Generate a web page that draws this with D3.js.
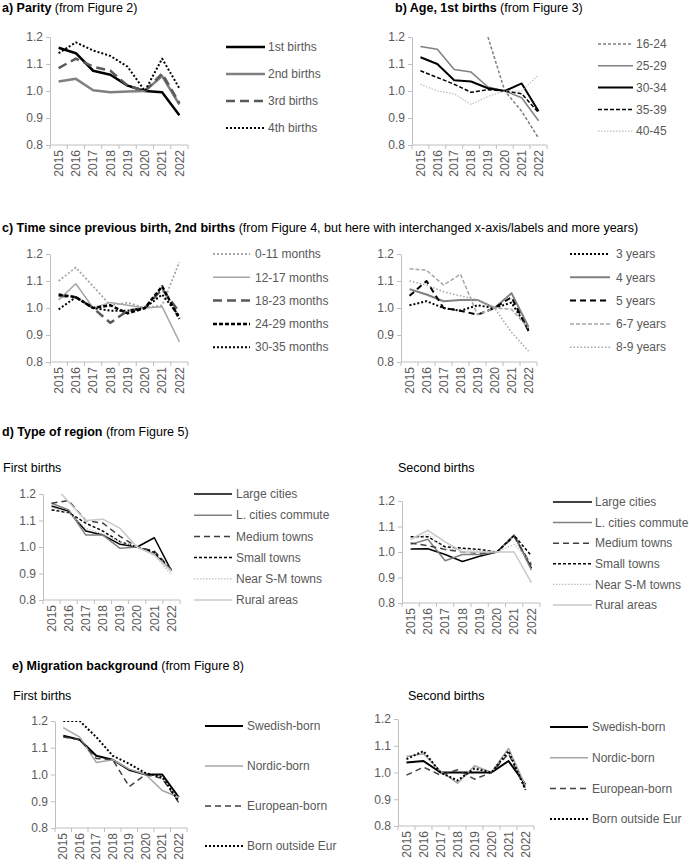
<!DOCTYPE html>
<html>
<head>
<meta charset="utf-8">
<script src="https://cdn.jsdelivr.net/npm/d3@7"></script>
<style>
  body { margin: 0; background: #fff; }
  svg { display: block; font-family: "Liberation Sans", Arial, sans-serif; }
  .ttl { font-size: 12.5px; fill: #000; }
  .ttl .b { font-weight: bold; }
  .sub { font-size: 12.5px; fill: #000; }
  .ax text { fill: #595959; font-size: 12px; font-family: "Liberation Sans", Arial, sans-serif; }
  .ax path, .ax line { stroke: #bfbfbf; }
  .lg { fill: #595959; font-size: 12px; }
</style>
</head>
<body>
<svg id="chart" width="689" height="866"></svg>
<script>
// ---- data ----
var years = ["2015", "2016", "2017", "2018", "2019", "2020", "2021", "2022"];
var yTicks = [0.8, 0.9, 1.0, 1.1, 1.2];

var parityNames = ["1st births", "2nd births", "3rd births", "4th births"];
var parityValues = [
  [1.160, 1.140, 1.075, 1.060, 1.020, 1.000, 0.995, 0.910],
  [1.035, 1.045, 1.003, 0.995, 0.998, 1.000, 1.055, 0.950],
  [1.085, 1.120, 1.090, 1.075, 1.020, 1.000, 1.065, 0.955],
  [1.140, 1.180, 1.150, 1.130, 1.090, 1.000, 1.120, 1.010]
];

var ageNames = ["16-24", "25-29", "30-34", "35-39", "40-45"];
var ageValues = [
  [null, null, null, null, 1.200, 1.000, 0.925, 0.825],
  [1.165, 1.155, 1.080, 1.070, 1.015, 1.000, 0.975, 0.890],
  [1.125, 1.100, 1.040, 1.035, 1.010, 1.000, 1.028, 0.925],
  [1.075, 1.050, 1.025, 0.995, 1.005, 1.000, 0.990, 0.920],
  [1.025, 1.000, 0.990, 0.950, 0.980, 1.000, 1.000, 1.060]
];

var monthNames = ["0-11 months", "12-17 months", "18-23 months", "24-29 months", "30-35 months"];
var monthValues = [
  [1.100, 1.150, 1.080, 1.010, 1.020, 1.000, 1.010, 1.170],
  [1.030, 1.090, 1.000, 1.020, 1.010, 1.000, 1.005, 0.875],
  [1.045, 1.040, 1.000, 0.945, 0.990, 1.000, 1.070, 0.985],
  [1.050, 1.040, 1.000, 1.010, 0.980, 1.000, 1.080, 0.960],
  [0.995, 1.040, 1.000, 0.990, 0.990, 1.000, 1.050, 0.970]
];

var yearGapNames = ["3 years", "4 years", "5 years", "6-7 years", "8-9 years"];
var yearGapValues = [
  [1.010, 1.025, 1.000, 0.990, 1.010, 1.000, 1.020, 0.920],
  [1.070, 1.050, 1.025, 1.030, 1.030, 1.000, 1.055, 0.930],
  [1.045, 1.100, 1.000, 0.990, 0.975, 1.000, 1.040, 0.915],
  [1.145, 1.140, 1.085, 1.125, 0.975, 1.000, 0.995, 0.925],
  [1.100, 1.085, 1.060, 1.045, 1.030, 1.000, 0.910, 0.840]
];

var regionNames = ["Large cities", "L. cities commute", "Medium towns", "Small towns", "Near S-M towns", "Rural areas"];
var regionFirst = [
  [1.155, 1.135, 1.060, 1.045, 1.010, 1.000, 1.035, 0.910],
  [1.165, 1.140, 1.045, 1.045, 0.995, 1.000, 0.975, 0.910],
  [1.165, 1.175, 1.100, 1.090, 1.040, 1.000, 0.985, 0.915],
  [1.140, 1.130, 1.090, 1.060, 1.020, 1.000, 0.980, 0.910],
  [1.150, 1.130, 1.070, 1.050, 1.020, 1.000, 0.970, 0.895],
  [1.240, 1.170, 1.100, 1.105, 1.070, 1.000, 0.970, 0.910]
];
var regionSecond = [
  [1.012, 1.013, 0.990, 0.963, 0.983, 1.000, 1.066, 0.937],
  [1.030, 1.050, 0.966, 0.990, 0.990, 1.000, 1.065, 0.930],
  [1.035, 1.025, 1.010, 1.000, 0.995, 1.000, 1.060, 0.950],
  [1.060, 1.060, 1.020, 1.015, 1.010, 1.000, 1.065, 0.985],
  [1.050, 1.070, 1.010, 1.010, 1.005, 1.000, 1.030, 0.960],
  [1.050, 1.085, 1.040, 1.000, 1.000, 1.000, 1.000, 0.880]
];

var migNames = ["Swedish-born", "Nordic-born", "European-born", "Born outside Eur"];
var migFirst = [
  [1.145, 1.130, 1.070, 1.055, 1.017, 1.000, 1.000, 0.915],
  [1.175, 1.140, 1.045, 1.055, 1.020, 1.000, 0.940, 0.915],
  [1.140, 1.130, 1.060, 1.055, 0.955, 1.000, 0.985, 0.895],
  [1.200, 1.200, 1.140, 1.070, 1.040, 1.005, 0.990, 0.900]
];
var migSecond = [
  [1.037, 1.043, 1.000, 1.000, 1.000, 1.000, 1.043, 0.955],
  [1.060, 1.070, 1.005, 0.960, 1.025, 1.000, 1.090, 0.950],
  [0.990, 1.020, 0.990, 1.010, 0.975, 1.000, 1.070, 0.940],
  [1.050, 1.080, 1.000, 0.970, 1.015, 1.000, 1.080, 0.935]
];

// ---- line styles ----
var sParity = [
  { c: "#000", w: 2.5 }, { c: "#808080", w: 2.5 },
  { c: "#595959", w: 2.5, d: "9,5" }, { c: "#000", w: 2, d: "2,2" }
];
var sAge = [
  { c: "#7f7f7f", w: 1.5, d: "3,2" }, { c: "#808080", w: 1.5 }, { c: "#000", w: 2 },
  { c: "#000", w: 1.5, d: "4,2" }, { c: "#bfbfbf", w: 1.2, d: "1.5,1.5" }
];
var sMonth = [
  { c: "#a6a6a6", w: 1.8, d: "2,2" }, { c: "#a6a6a6", w: 1.5 },
  { c: "#595959", w: 2.5, d: "9,5" }, { c: "#000", w: 2.5, d: "4,2" }, { c: "#000", w: 2, d: "2,2" }
];
var sYearGap = [
  { c: "#000", w: 2, d: "2,2" }, { c: "#808080", w: 2 }, { c: "#000", w: 2, d: "6,4" },
  { c: "#a6a6a6", w: 1.5, d: "4,2" }, { c: "#a6a6a6", w: 1.5, d: "1.5,2" }
];
var sRegion = [
  { c: "#000", w: 1.5 }, { c: "#808080", w: 1.5 }, { c: "#404040", w: 1.5, d: "6,4" },
  { c: "#000", w: 1.5, d: "3,2" }, { c: "#bfbfbf", w: 1.2, d: "1.5,1.5" }, { c: "#c8c8c8", w: 1.5 }
];
var sMig = [
  { c: "#000", w: 2 }, { c: "#a6a6a6", w: 1.5 },
  { c: "#404040", w: 1.5, d: "6,4" }, { c: "#000", w: 2, d: "2,2" }
];

// ---- layout ----
var panels = [
  { names: parityNames, values: parityValues, st: sParity, x0: 50, x1: 188, yT: 37, yB: 145, lg: [226, 265, 268, 47, 27] },
  { names: ageNames, values: ageValues, st: sAge, x0: 412, x1: 547, yT: 37, yB: 145, lg: [598, 633, 636, 44, 21.8] },
  { names: monthNames, values: monthValues, st: sMonth, x0: 50, x1: 188, yT: 254, yB: 362, lg: [213, 250, 255, 254, 23.3] },
  { names: yearGapNames, values: yearGapValues, st: sYearGap, x0: 401, x1: 537, yT: 254, yB: 362, lg: [570, 610, 616, 254, 23.3] },
  { names: regionNames, values: regionFirst, st: sRegion, x0: 43, x1: 180, yT: 494, yB: 600, lg: [194, 232, 236, 494, 21.2] },
  { names: regionNames, values: regionSecond, st: sRegion, x0: 402, x1: 540, yT: 501, yB: 603, lg: [553, 592, 595, 502, 20.6] },
  { names: migNames, values: migFirst, st: sMig, x0: 55, x1: 187, yT: 721, yB: 828, lg: [205, 243, 247, 726, 40] },
  { names: migNames, values: migSecond, st: sMig, x0: 398, x1: 534, yT: 719, yB: 826, lg: [550, 588, 592, 727, 30.7] }
];

var titles = [
  { b: "a) Parity", t: " (from Figure 2)", x: 2, y: 12 },
  { b: "b) Age, 1st births", t: " (from Figure 3)", x: 395, y: 12 },
  { b: "c) Time since previous birth, 2nd births", t: " (from Figure 4, but here with interchanged x-axis/labels and more years)", x: 2, y: 232 },
  { b: "d) Type of region", t: " (from Figure 5)", x: 2, y: 436 },
  { b: "e) Migration background", t: " (from Figure 8)", x: 12, y: 670 }
];
var subs = [
  { t: "First births", x: 3, y: 472 }, { t: "Second births", x: 398, y: 472 },
  { t: "First births", x: 13, y: 700 }, { t: "Second births", x: 408, y: 700 }
];

var svg = d3.select("#chart");

titles.forEach(function (d) {
  var t = svg.append("text").attr("class", "ttl").attr("x", d.x).attr("y", d.y);
  t.append("tspan").attr("class", "b").text(d.b);
  t.append("tspan").text(d.t);
});
subs.forEach(function (d) {
  svg.append("text").attr("class", "sub").attr("x", d.x).attr("y", d.y).text(d.t);
});

panels.forEach(function (p, pi) {
  var g = svg.append("g");
  var x = d3.scaleBand().domain(years).range([p.x0, p.x1]);
  var y = d3.scaleLinear().domain([0.8, 1.2]).range([p.yB, p.yT]);

  // y axis
  g.append("g").attr("class", "ax").attr("transform", "translate(" + p.x0 + ",0)")
    .call(d3.axisLeft(y).tickValues(yTicks).tickFormat(d3.format(".1f")).tickSize(4).tickSizeOuter(0).tickPadding(3));

  // x axis: ticks sit between categories
  var xa = g.append("g").attr("class", "ax").attr("transform", "translate(0," + p.yB + ")");
  xa.append("line").attr("x1", p.x0).attr("x2", p.x1);
  xa.selectAll("line.tk").data(d3.range(years.length + 1)).join("line").attr("class", "tk")
    .attr("x1", function (i) { return p.x0 + i * x.step(); })
    .attr("x2", function (i) { return p.x0 + i * x.step(); })
    .attr("y1", 0).attr("y2", 4);
  xa.selectAll("text").data(years).join("text")
    .attr("transform", function (d) { return "translate(" + (x(d) + x.bandwidth() / 2) + ",5) rotate(-90)"; })
    .attr("text-anchor", "end").attr("dy", "0.35em").text(function (d) { return d; });

  // plot clip (values beyond 0.8-1.2 are cut like in the source)
  var cid = "clip" + pi;
  g.append("clipPath").attr("id", cid).append("rect")
    .attr("x", p.x0).attr("y", p.yT).attr("width", p.x1 - p.x0).attr("height", p.yB - p.yT);

  var line = d3.line()
    .defined(function (v) { return v != null; })
    .x(function (v, i) { return x(years[i]) + x.bandwidth() / 2; })
    .y(function (v) { return y(v); });

  g.append("g").attr("clip-path", "url(#" + cid + ")")
    .selectAll("path").data(p.values).join("path")
    .attr("fill", "none").attr("stroke-linejoin", "round")
    .attr("stroke", function (v, i) { return p.st[i].c; })
    .attr("stroke-width", function (v, i) { return p.st[i].w; })
    .attr("stroke-dasharray", function (v, i) { return p.st[i].d || null; })
    .attr("d", line);

  // legend
  var L = p.lg;
  var lg = g.append("g").selectAll("g").data(p.names).join("g")
    .attr("transform", function (d, i) { return "translate(0," + (L[3] + i * L[4]) + ")"; });
  lg.append("line").attr("x1", L[0]).attr("x2", L[1])
    .attr("stroke", function (d, i) { return p.st[i].c; })
    .attr("stroke-width", function (d, i) { return p.st[i].w; })
    .attr("stroke-dasharray", function (d, i) { return p.st[i].d || null; });
  lg.append("text").attr("class", "lg").attr("x", L[2]).attr("dy", "0.35em").text(function (d) { return d; });
});
</script>
</body>
</html>
